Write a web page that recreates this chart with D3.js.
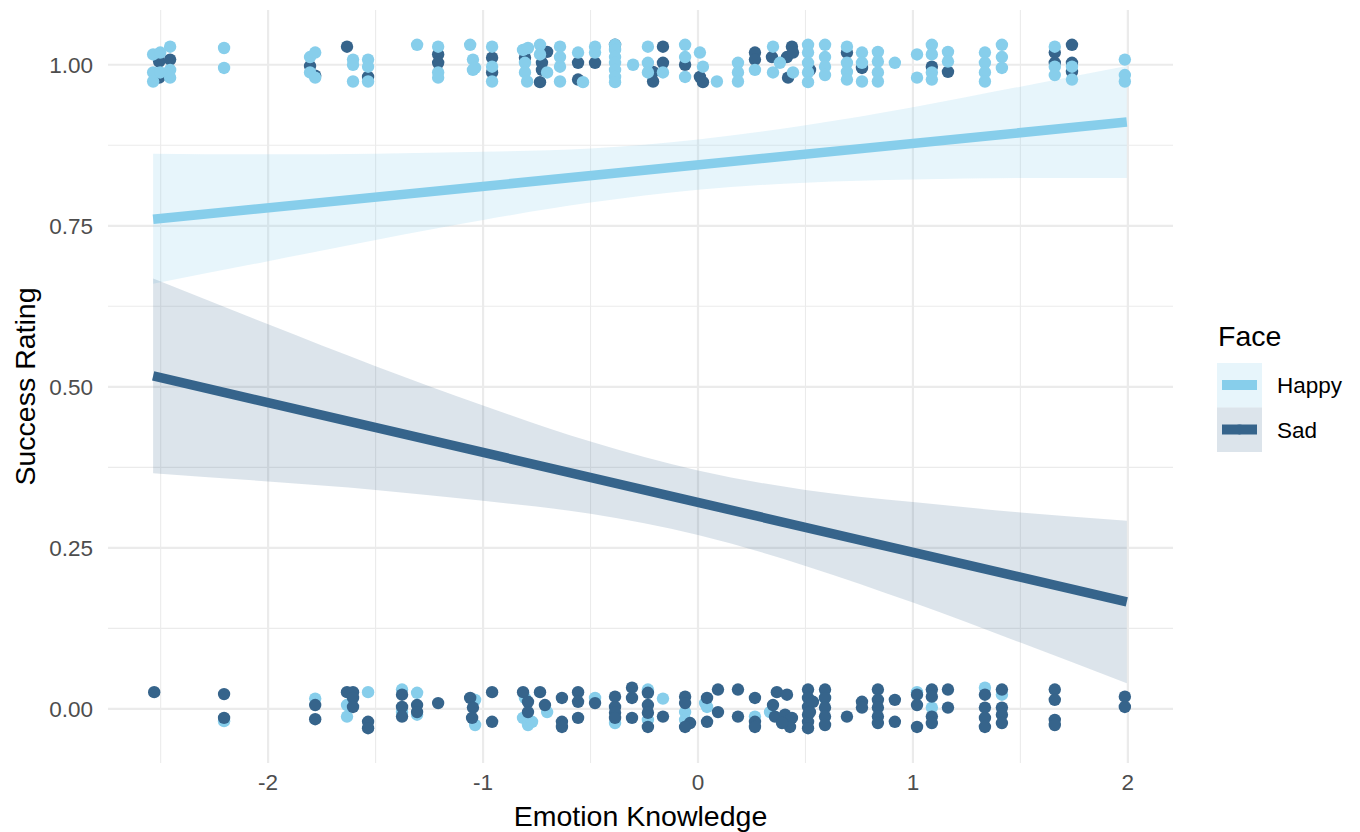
<!DOCTYPE html>
<html>
<head>
<meta charset="utf-8">
<script src="https://cdn.jsdelivr.net/npm/d3@7"></script>
<style>
  html, body { margin: 0; padding: 0; background: #ffffff; }
  svg { display: block; font-family: "Liberation Sans", Arial, Helvetica, sans-serif; }
</style>
</head>
<body>
<svg id="chart" width="1360" height="832"></svg>
<script>
// ---------------- DATA ----------------
const faces = ["Happy", "Sad"];
const faceColors = ["#87CEEB", "#36648B"];
const xTicks = [-2, -1, 0, 1, 2];
const xTickLabels = ["-2", "-1", "0", "1", "2"];
const xMinorTicks = [-2.5, -1.5, -0.5, 0.5, 1.5];
const yTicks = [0, 0.25, 0.5, 0.75, 1];
const yTickLabels = ["0.00", "0.25", "0.50", "0.75", "1.00"];
const yMinorTicks = [0.125, 0.375, 0.625, 0.875];

// Jittered observations (Emotion Knowledge, Success Rating)
const happyTop = [
  [-2.456,1.028],[-2.535,1.016],[-2.502,1.019],[-2.535,0.988],[-2.535,0.974],[-2.456,0.992],[-2.456,0.980],[-2.502,0.988],
  [-2.205,1.026],[-2.205,0.995],
  [-1.805,1.012],[-1.781,1.019],[-1.805,0.988],[-1.781,0.980],
  [-1.605,1.008],[-1.605,1.000],[-1.605,0.974],
  [-1.535,1.008],[-1.535,0.997],[-1.535,0.974],
  [-1.307,1.031],
  [-1.209,1.028],[-1.209,0.988],[-1.209,0.980],
  [-1.060,1.031],[-1.047,1.008],[-1.037,0.995],[-1.047,0.992],
  [-0.958,1.028],[-0.958,0.997],[-0.958,0.974],
  [-0.814,1.023],[-0.791,1.026],[-0.805,1.003],[-0.805,0.988],[-0.795,0.974],
  [-0.735,1.031],[-0.702,0.988],[-0.735,1.016],
  [-0.642,1.028],[-0.642,1.012],[-0.642,0.997],[-0.642,0.974],
  [-0.558,1.019],[-0.535,0.973],[-0.479,1.028],[-0.479,1.019],
  [-0.386,1.031],[-0.386,1.023],[-0.386,1.012],[-0.386,1.003],[-0.386,0.992],[-0.386,0.981],[-0.386,0.973],
  [-0.302,1.000],
  [-0.233,1.028],[-0.233,1.003],[-0.233,0.988],[-0.163,0.988],
  [-0.060,1.031],[-0.060,1.012],[-0.060,0.981],
  [0.009,1.019],[0.023,0.997],
  [0.088,0.974],
  [0.186,1.003],[0.186,0.988],[0.186,0.974],
  [0.265,0.992],
  [0.349,1.028],[0.381,1.003],[0.349,0.988],[0.442,0.988],
  [0.512,1.031],[0.512,1.019],[0.512,1.003],[0.512,0.988],[0.512,0.973],
  [0.591,1.031],[0.591,1.012],[0.591,0.997],[0.591,0.984],
  [0.693,1.028],[0.693,1.003],[0.693,0.989],[0.693,0.977],
  [0.763,1.019],[0.763,1.003],[0.763,0.974],
  [0.837,1.020],[0.837,1.005],[0.837,0.988],[0.837,0.974],
  [0.916,1.003],
  [1.019,1.016],[1.019,0.980],
  [1.088,1.031],[1.088,1.016],[1.088,0.988],[1.088,0.977],
  [1.163,1.020],[1.163,1.005],
  [1.335,1.019],[1.335,1.003],[1.335,0.988],[1.335,0.974],
  [1.414,1.031],[1.414,1.012],[1.414,0.995],
  [1.660,1.028],[1.660,0.997],[1.660,0.984],
  [1.740,0.997],[1.740,0.977],
  [1.986,1.008],[1.986,0.984],[1.986,0.974]
];
const sadTop = [
  [-2.507,1.005],[-2.456,1.008],[-2.507,0.980],
  [-1.805,0.998],[-1.781,0.983],
  [-1.633,1.028],
  [-1.535,0.981],
  [-1.209,1.016],[-1.209,1.003],
  [-0.958,1.011],[-0.958,0.988],
  [-0.805,1.011],
  [-0.702,1.020],[-0.726,1.003],[-0.726,0.992],[-0.735,0.973],
  [-0.558,1.003],[-0.558,0.977],[-0.479,1.003],
  [-0.386,1.031],
  [-0.163,1.028],[-0.163,1.003],[-0.209,0.989],[-0.209,0.974],
  [-0.060,1.000],
  [0.009,0.981],[0.023,0.973],
  [0.265,1.019],[0.265,1.008],
  [0.344,1.012],[0.437,1.028],[0.414,1.012],[0.419,0.980],[0.442,1.019],
  [0.521,0.992],
  [0.693,1.019],
  [0.763,0.995],
  [1.088,0.997],
  [1.163,0.989],
  [1.660,1.019],[1.660,1.003],
  [1.740,1.031],[1.740,1.003],[1.740,0.989]
];
const happyBottom = [
  [-2.205,-0.019],
  [-1.781,0.016],
  [-1.633,0.006],[-1.633,-0.012],
  [-1.535,0.026],
  [-1.377,0.030],[-1.377,-0.005],
  [-1.307,0.025],[-1.307,-0.009],
  [-1.037,0.014],[-1.037,-0.025],
  [-0.805,0.017],[-0.702,-0.005],[-0.814,-0.014],[-0.791,-0.025],[-0.772,-0.020],
  [-0.479,0.017],
  [-0.386,-0.022],
  [-0.233,0.030],[-0.233,-0.017],
  [-0.163,0.016],
  [-0.060,-0.005],[-0.060,-0.017],
  [0.033,0.009],[0.042,0.003],
  [0.265,-0.012],
  [0.335,-0.005],
  [0.591,0.017],
  [1.019,0.026],
  [1.088,0.002],
  [1.335,0.033],
  [1.414,0.022]
];
const sadBottom = [
  [-2.530,0.026],
  [-2.205,0.023],[-2.205,-0.014],
  [-1.781,0.006],[-1.781,-0.016],
  [-1.633,0.026],[-1.605,0.026],[-1.605,0.017],[-1.605,0.003],
  [-1.535,-0.020],[-1.535,-0.030],
  [-1.377,0.022],[-1.377,0.003],[-1.377,-0.012],
  [-1.307,0.006],[-1.307,-0.005],
  [-1.209,0.009],
  [-1.060,0.017],[-1.047,0.002],[-1.051,-0.014],
  [-0.958,0.026],[-0.958,-0.020],
  [-0.814,0.026],[-0.791,0.011],[-0.735,0.026],[-0.712,0.006],[-0.791,-0.005],
  [-0.633,0.017],[-0.633,-0.020],[-0.633,-0.028],
  [-0.558,0.026],[-0.558,0.011],[-0.558,-0.014],
  [-0.479,0.009],
  [-0.386,0.019],[-0.386,0.003],[-0.386,-0.006],[-0.386,-0.014],
  [-0.307,0.033],[-0.307,0.017],[-0.307,-0.014],
  [-0.233,0.025],[-0.233,0.006],[-0.233,-0.006],[-0.233,-0.028],
  [-0.163,-0.012],
  [-0.060,0.019],[-0.060,0.009],[-0.037,-0.022],[-0.060,-0.028],
  [0.042,0.017],[0.042,-0.020],
  [0.093,0.030],[0.093,-0.005],
  [0.186,0.030],[0.186,-0.012],
  [0.265,0.017],[0.265,-0.020],[0.265,-0.028],
  [0.367,0.026],[0.414,0.022],[0.349,0.006],[0.358,-0.012],[0.405,-0.009],[0.437,-0.014],[0.428,-0.028],[0.391,-0.022],
  [0.512,0.030],[0.512,0.017],[0.512,0.003],[0.512,-0.009],[0.512,-0.020],[0.512,-0.030],
  [0.535,0.011],[0.521,-0.005],
  [0.591,0.030],[0.591,0.017],[0.591,0.002],[0.591,-0.012],[0.591,-0.025],
  [0.693,-0.012],
  [0.763,0.011],[0.763,0.002],
  [0.837,0.030],[0.837,0.014],[0.837,0.002],[0.837,-0.012],[0.837,-0.022],
  [0.916,0.014],[0.916,-0.020],
  [1.019,0.022],[1.019,0.006],[1.019,-0.028],
  [1.088,0.030],[1.088,0.019],[1.088,-0.012],[1.088,-0.022],
  [1.163,0.030],[1.163,0.002],
  [1.335,0.022],[1.335,0.002],[1.335,-0.014],[1.335,-0.028],
  [1.414,0.030],[1.414,0.002],[1.414,-0.009],[1.414,-0.022],
  [1.660,0.030],[1.660,0.014],[1.660,-0.017],[1.660,-0.025],
  [1.986,0.019],[1.986,0.003]
];

// Linear fit with confidence band, read at several knowledge values
const fitX = [-2.535, -2, -1.5, -1, -0.5, 0, 0.5, 1, 1.5, 1.995];
const happyFit   = [0.760, 0.778, 0.795, 0.812, 0.828, 0.845, 0.862, 0.878, 0.895, 0.911];
const happyLower = [0.660, 0.695, 0.728, 0.759, 0.786, 0.806, 0.817, 0.822, 0.824, 0.824];
const happyUpper = [0.862, 0.861, 0.862, 0.865, 0.870, 0.884, 0.906, 0.934, 0.966, 0.998];
const sadFit   = [0.517, 0.475, 0.436, 0.397, 0.359, 0.320, 0.281, 0.243, 0.204, 0.166];
const sadLower = [0.366, 0.353, 0.340, 0.323, 0.303, 0.270, 0.222, 0.165, 0.103, 0.040];
const sadUpper = [0.668, 0.597, 0.532, 0.471, 0.415, 0.370, 0.340, 0.321, 0.305, 0.292];

// ---------------- CHART ----------------
const svg = d3.select("#chart");
const panel = { left: 108, right: 1173, top: 10, bottom: 763 };

const x = d3.scaleLinear().domain([-2.745, 2.21]).range([panel.left, panel.right]);
const y = d3.scaleLinear().domain([-0.084, 1.085]).range([panel.bottom, panel.top]);

const grid = svg.append("g");
// minor grid
grid.selectAll(".xminor").data(xMinorTicks).join("line")
  .attr("x1", d => x(d)).attr("x2", d => x(d))
  .attr("y1", panel.top).attr("y2", panel.bottom)
  .attr("stroke", "#EBEBEB").attr("stroke-width", 1.1);
grid.selectAll(".yminor").data(yMinorTicks).join("line")
  .attr("y1", d => y(d)).attr("y2", d => y(d))
  .attr("x1", panel.left).attr("x2", panel.right)
  .attr("stroke", "#EBEBEB").attr("stroke-width", 1.1);
// major grid
grid.selectAll(".xmajor").data(xTicks).join("line")
  .attr("x1", d => x(d)).attr("x2", d => x(d))
  .attr("y1", panel.top).attr("y2", panel.bottom)
  .attr("stroke", "#EBEBEB").attr("stroke-width", 2.2);
grid.selectAll(".ymajor").data(yTicks).join("line")
  .attr("y1", d => y(d)).attr("y2", d => y(d))
  .attr("x1", panel.left).attr("x2", panel.right)
  .attr("stroke", "#EBEBEB").attr("stroke-width", 2.2);

// ribbons
const ribbonFills = ["rgba(135,206,235,0.2)", "rgba(54,100,139,0.175)"];
const bands = [
  fitX.map((v, i) => ({ x: v, lo: happyLower[i], hi: happyUpper[i], fit: happyFit[i] })),
  fitX.map((v, i) => ({ x: v, lo: sadLower[i], hi: sadUpper[i], fit: sadFit[i] }))
];
const area = d3.area().curve(d3.curveMonotoneX)
  .x(d => x(d.x)).y0(d => y(d.lo)).y1(d => y(d.hi));
bands.forEach((b, i) => {
  svg.append("path").datum(b).attr("d", area).attr("fill", ribbonFills[i]);
});

// points
const pointLayers = [
  { data: sadTop, color: faceColors[1] },
  { data: happyTop, color: faceColors[0] },
  { data: happyBottom, color: faceColors[0] },
  { data: sadBottom, color: faceColors[1] }
];
pointLayers.forEach(layer => {
  svg.append("g").selectAll("circle").data(layer.data).join("circle")
    .attr("cx", d => x(d[0])).attr("cy", d => y(d[1]))
    .attr("r", 6.2).attr("fill", layer.color);
});

// fitted lines
const line = d3.line().x(d => x(d.x)).y(d => y(d.fit));
bands.forEach((b, i) => {
  svg.append("path").datum([b[0], b[b.length - 1]]).attr("d", line)
    .attr("fill", "none").attr("stroke", faceColors[i]).attr("stroke-width", 9.5);
});

// axes labels
const tickColor = "#4D4D4D";
const tickSize = 22.5;
svg.append("g").selectAll("text").data(xTicks).join("text")
  .attr("x", d => x(d)).attr("y", 790)
  .attr("text-anchor", "middle").attr("font-size", tickSize).attr("fill", tickColor)
  .text((d, i) => xTickLabels[i]);
svg.append("g").selectAll("text").data(yTicks).join("text")
  .attr("x", 93).attr("y", d => y(d) + 8)
  .attr("text-anchor", "end").attr("font-size", tickSize).attr("fill", tickColor)
  .text((d, i) => yTickLabels[i]);

svg.append("text")
  .attr("x", (panel.left + panel.right) / 2).attr("y", 826)
  .attr("text-anchor", "middle").attr("font-size", 28.5).attr("fill", "#000")
  .text("Emotion Knowledge");
svg.append("text")
  .attr("transform", `translate(35, ${(panel.top + panel.bottom) / 2}) rotate(-90)`)
  .attr("text-anchor", "middle").attr("font-size", 28.5).attr("fill", "#000")
  .text("Success Rating");

// legend
const lg = svg.append("g").attr("transform", "translate(1217, 0)");
lg.append("text").attr("x", 1).attr("y", 346).attr("font-size", 28.5).attr("fill", "#000").text("Face");
faces.forEach((f, i) => {
  const top = 363 + i * 44.5;
  lg.append("rect").attr("x", 0).attr("y", top).attr("width", 45).attr("height", 44.5)
    .attr("fill", ribbonFills[i]);
  lg.append("circle").attr("cx", 22.5).attr("cy", top + 22).attr("r", 5).attr("fill", faceColors[i]);
  lg.append("line").attr("x1", 5).attr("x2", 40).attr("y1", top + 22).attr("y2", top + 22)
    .attr("stroke", faceColors[i]).attr("stroke-width", 10);
  lg.append("text").attr("x", 60).attr("y", top + 30).attr("font-size", 22.5).attr("fill", "#000").text(f);
});
</script>
</body>
</html>
